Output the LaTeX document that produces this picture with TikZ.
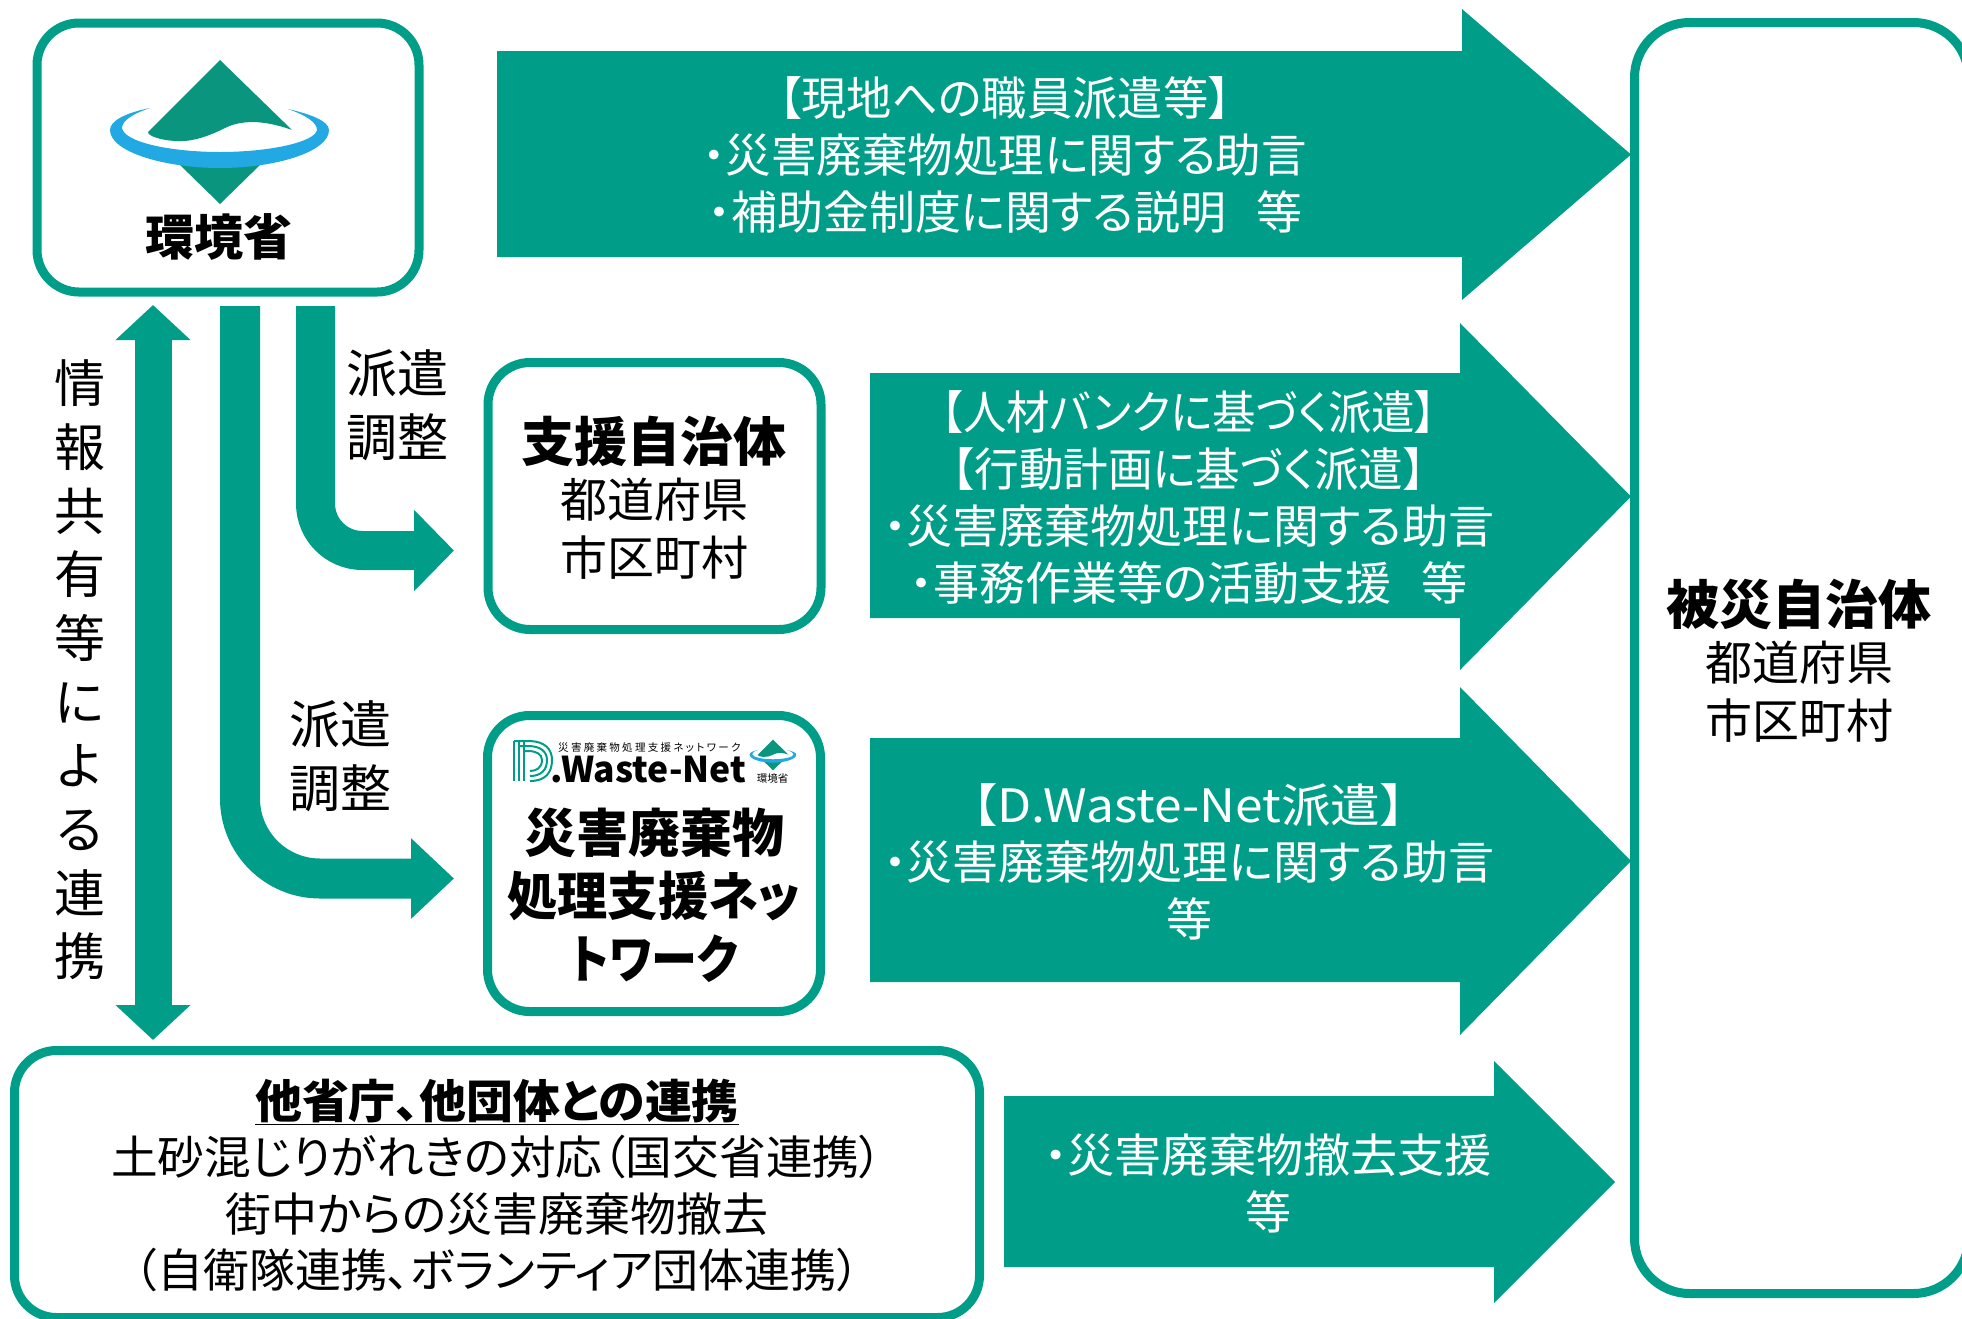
\documentclass[tikz,border=0pt]{standalone}
\usepackage{fontspec}
\usepackage{graphicx}
\setmainfont{Noto Sans CJK JP}[RawFeature={+palt}]
\usetikzlibrary{arrows.meta,calc}
\definecolor{teal1}{HTML}{009E88}
\definecolor{leaf}{HTML}{0A957F}
\definecolor{ring}{HTML}{22A8E2}
\newcommand{\fs}[2]{\fontsize{#1}{#2}\selectfont}
\newcommand{\sx}[2]{\scalebox{#1}[1]{#2}}
\newcommand{\blockarrow}[7]{%
  \fill[teal1] (#1,#4) -- (#3,#4) -- (#3,#6) -- (#2,{(#6+#7)/2}) -- (#3,#7) -- (#3,#5) -- (#1,#5) -- cycle;}
\newcommand{\moelogo}{%
  \fill[leaf] (220,60) -- (292,130) .. controls (270,122) and (245,118) .. (225,128)
     .. controls (205,138) and (190,142) .. (175,141) .. controls (160,140) and (148,136) .. (148,132) -- cycle;
  \fill[leaf] (178,163) -- (262,163) -- (220,204) -- cycle;
  \fill[ring] (150,108) .. controls (125,113) and (110,121) .. (110,130)
     .. controls (110,152) and (165,168) .. (220,168)
     .. controls (275,168) and (329,152) .. (329,130)
     .. controls (329,121) and (310,114) .. (288,109)
     .. controls (305,115) and (317,122) .. (317,130)
     .. controls (315,142) and (270,152) .. (220,152)
     .. controls (170,152) and (124,142) .. (122,128)
     .. controls (122,120) and (135,113) .. (150,108) -- cycle;}
\tikzset{
  x=1pt,y=-1pt,
  box/.style={draw=teal1,line width=9pt,fill=white,rounded corners=#1,inner sep=0pt},
  box/.default=42pt,
  btxt/.style={align=center,inner sep=0pt,text=black},
  wtxt/.style={align=center,inner sep=0pt,text=white,font=\fs{46}{57}},
  vtxt/.style={btxt,font=\fs{51}{63.7}},
  conna/.style={draw=teal1,line width=39pt,rounded corners=47pt,-{Triangle[length=40pt,width=79pt]}},
  connb/.style={draw=teal1,line width=40pt,rounded corners=80pt,-{Triangle[length=43pt,width=78pt]}},
  dbl/.style={draw=teal1,line width=37pt,{Triangle[length=35pt,width=73pt]}-{Triangle[length=35pt,width=73pt]}},
}
\begin{document}
\begin{tikzpicture}
\useasboundingbox (0,0) rectangle (1962,1318);
\fill[white] (0,0) rectangle (1962,1318);
\clip (0,0) rectangle (1962,1318);

% boxes
\node[box,minimum width=382pt,minimum height=269pt] (env) at (228,157.5) {};
\node[box,minimum width=333pt,minimum height=267pt] (support) at (654.5,496) {};
\node[box,minimum width=333pt,minimum height=296pt] (wnet) at (654,863.5) {};
\node[box,minimum width=965pt,minimum height=267pt] (other) at (497,1184) {};
\node[box=55pt,minimum width=334pt,minimum height=1271pt] (victim) at (1801.5,658) {};

% block arrows
\blockarrow{497}{1631}{1462}{51}{257}{9}{300}
\blockarrow{870}{1631}{1460}{373}{618}{323}{670}
\blockarrow{870}{1631}{1460}{738}{982}{687}{1035}
\blockarrow{1004}{1615}{1494}{1096}{1267}{1061}{1303}

\node[wtxt] (a1) at (1005,155) {\sx{.985}{【現地への職員派遣等】}\\\sx{.99}{・災害廃棄物処理に関する助言}\\・補助金制度に関する説明\hspace{.65em}等};
\node[wtxt] (a2) at (1189,497.5) {\sx{.945}{【人材バンクに基づく派遣】}\\\sx{.97}{【行動計画に基づく派遣】}\\・災害廃棄物処理に関する助言\\・事務作業等の活動支援\hspace{.65em}等};
\node[wtxt] (a3) at (1189,862) {\sx{1.08}{【D.Waste-Net派遣】}\\・災害廃棄物処理に関する助言\\等};
\node[wtxt] (a4) at (1268,1183) {\sx{1.025}{・災害廃棄物撤去支援}\\等};

% connectors
\coordinate (c1s) at (315.5,306);
\coordinate (c1e) at (454,550.5);
\coordinate (c2s) at (240,306);
\coordinate (c2e) at (454,878.5);
\coordinate (d1) at (153,305);
\coordinate (d2) at (153,1040);
\draw[conna] (c1s) |- (c1e);
\draw[connb] (c2s) |- (c2e);
\draw[dbl] (d1) -- (d2);

% labels
\node[vtxt] (v) at (80,670) {情\\報\\共\\有\\等\\に\\よ\\る\\連\\携};
\node[vtxt] (h1) at (397,405) {派遣\\調整};
\node[vtxt] (h2) at (340,756) {派遣\\調整};

\node[btxt,font=\fs{47}{58}] (s) at (654,497.5) {{\fs{53}{58}\bfseries 支援自治体}\\[-2pt]都道府県\\市区町村};
\node[btxt,font=\fs{52}{63}\bfseries] (w) at (654,895) {災害廃棄物\\\sx{.965}{処理支援ネッ}\\\sx{.885}{トワーク}};
\node[btxt,font=\fs{47}{58}] (vt) at (1799,660.5) {{\fs{53}{58}\bfseries 被災自治体}\\[-2pt]都道府県\\市区町村};
\node[btxt,font=\fs{46}{56.5}] (o) at (497,1185.5) {{\bfseries\sx{1.02}{\underline{他省庁、他団体との連携}}}\\\sx{1.015}{土砂混じりがれきの対応（国交省連携）}\\街中からの災害廃棄物撤去\\（自衛隊連携、ボランティア団体連携）};

% logo in the environment box
\moelogo
\node[btxt,font=\fs{49}{50}\bfseries] (envt) at (219,237) {環境省};

% D.Waste-Net logo
\begin{scope}[shift={(773,755)},scale=0.213]
  \begin{scope}[shift={(-220,-132)}]
    \moelogo
  \end{scope}
\end{scope}
\node[btxt,font=\fs{10.5}{11}] (wl1) at (772.5,778) {環境省};
\foreach \r/\w in {0/2,5/2,10/2}{
  \draw[teal1,line width=\w pt] ({514+\r},741) -- ({514+\r},781);
  \draw[teal1,line width=\w pt] ({514+\r},{741+\r}) -- ({528},{741+\r}) .. controls ({546-\r},{741+\r}) and ({552-\r},{750+\r*.4}) .. ({552-\r},760) .. controls ({552-\r},{772-\r*.4}) and ({546-\r},{781-\r}) .. (530,{781-\r});
}
\node[btxt,anchor=base west,font=\fs{35.5}{36}\bfseries] (wl2) at (550,782) {.Waste-Net};
\node[btxt,anchor=west,font=\fs{10.5}{12}\addfontfeatures{LetterSpace=22}] (wl3) at (558,748) {災害廃棄物処理支援ネットワーク};
\end{tikzpicture}
\end{document}
